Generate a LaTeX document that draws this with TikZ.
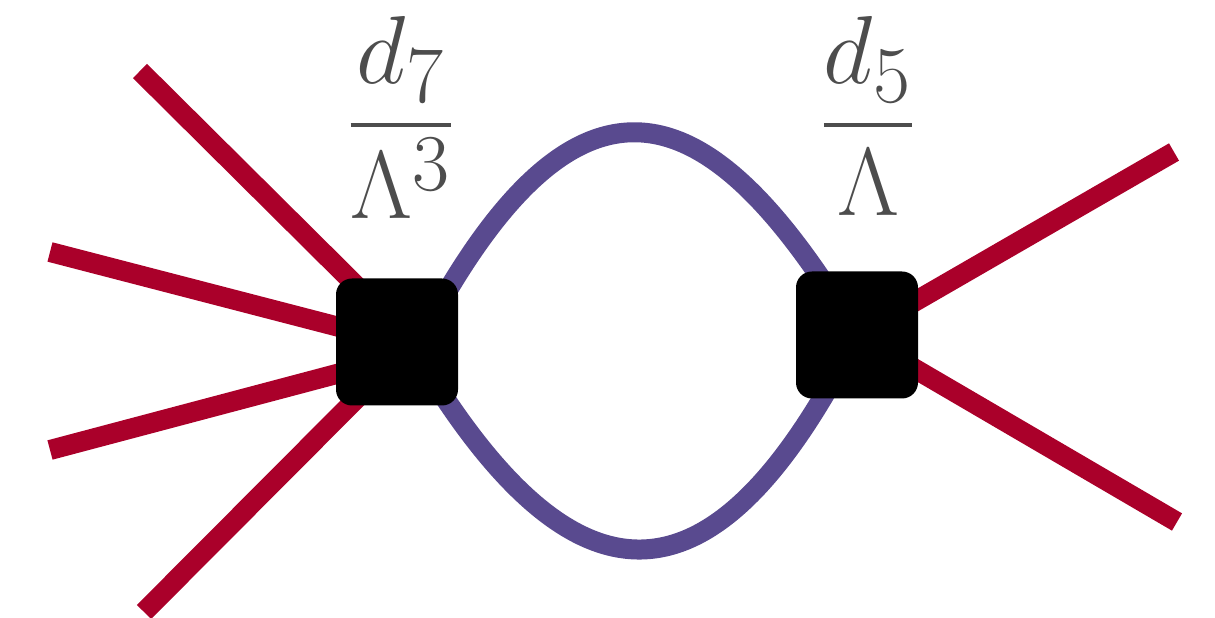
\documentclass[tikz,border=0pt]{standalone}
\usepackage{amsmath}
\usetikzlibrary{backgrounds}
\definecolor{legred}{RGB}{170,0,42}
\definecolor{loopblue}{RGB}{89,74,143}
\definecolor{labelgray}{RGB}{77,77,77}
\begin{document}
\begin{tikzpicture}[
    vertex/.style={fill=black, rounded corners=0.32cm, minimum width=2.44cm, minimum height=2.54cm, inner sep=0pt},
    leg/.style={draw=legred, line width=0.4cm},
    loopline/.style={draw=loopblue, line width=0.4cm},
    coupling/.style={text=labelgray, anchor=base, font=\Huge, scale=2.21, transform shape}]
  \useasboundingbox (0,0) rectangle (24.3,12.36);
  % the two effective vertices
  \node[vertex] (L) at (7.94,5.52) {};
  \node[vertex] (R) at (17.14,5.66) {};
  % external legs
  \coordinate (l1) at (2.80,10.94);
  \coordinate (l2) at (1.00,7.32);
  \coordinate (l3) at (1.00,3.36);
  \coordinate (l4) at (2.88,0.12);
  \coordinate (r1) at (23.48,9.32);
  \coordinate (r2) at (23.54,1.92);
  \begin{scope}[on background layer]
    \draw[leg] (l1) -- ([xshift=0.32cm]L.center);
    \draw[leg] (l2) -- (L.center);
    \draw[leg] (l3) -- ([yshift=-0.32cm]L.center);
    \draw[leg] (l4) -- ([xshift=0.32cm]L.center);
    \foreach \e in {r1,r2} \draw[leg] (\e) -- (R.center);
    % the loop
    \draw[loopline] ([xshift=0.44cm]L.center) .. controls (11.73,11.94) and (14.43,10.18) .. (R.center);
    \draw[loopline] ([xshift=0.26cm]L.center) .. controls (11.74,-0.58) and (14.56,0.54) .. (R.center);
  \end{scope}
  % couplings
  \node[coupling] (cL) at (8.02,9.375) {$\dfrac{d_7}{\Lambda^3}$};
  \node[coupling] (cR) at (17.36,9.375) {$\dfrac{d_5}{\Lambda}$};
\end{tikzpicture}
\end{document}
